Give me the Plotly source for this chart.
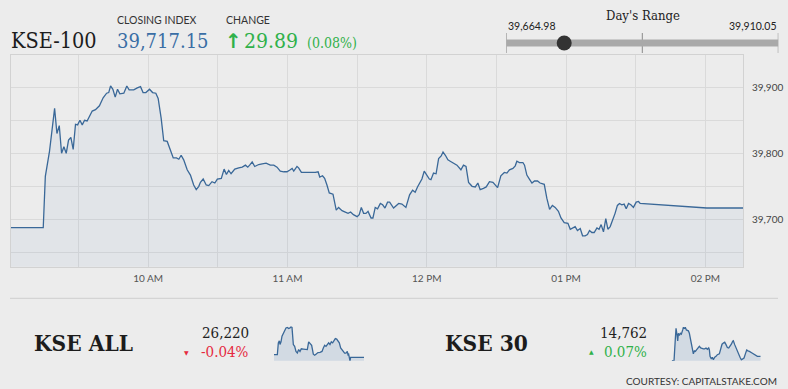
import pandas as pd
import plotly.graph_objects as go

W, H = 788, 389
BASE = pd.Timestamp("2020-01-06")

# ---------------- data ----------------
# KSE-100 intraday (minutes since midnight, index value)
kse100_minutes = [
    540, 554.8, 555.7, 557.5, 559.7, 560.7, 561.7, 562.7, 563.7, 564.7, 565.7, 566.7, 567.7, 568.7,
    569.6, 570.6, 571.6, 572.6, 573.7, 574.9, 575.9, 577.3, 579.0, 580.6, 582.1, 583.0, 583.8, 584.8,
    585.8, 586.8, 587.8, 589.5, 590.8, 591.8, 593.8, 595.3, 596.7, 597.8, 599.0, 600.6, 601.9, 603.3,
    604.3, 605.6, 606.7, 608.2, 609.6, 610.8, 612.2, 613.2, 614.2, 615.3, 616.8, 618.2, 619.6, 620.7,
    621.8, 622.5, 623.7, 625.0, 626.1, 627.5, 628.7, 629.8, 631.5, 632.7, 633.7, 634.7, 635.7, 637.3,
    639.0, 640.5, 641.9, 642.9, 643.7, 644.8, 645.9, 647.6, 649.1, 650.8, 652.6, 654.1, 655.5, 656.9,
    658.4, 659.8, 661.2, 662.0, 662.7, 664.1, 664.8, 666.0, 667.7, 669.9, 670.8, 672.0, 673.2, 673.9,
    675.1, 676.0, 677.0, 678.0, 679.6, 680.3, 681.0, 682.0, 683.5, 684.9, 686.1, 687.2, 688.4, 690.0,
    690.9, 691.8, 692.8, 693.8, 694.7, 696.0, 696.8, 697.8, 698.8, 700.0, 701.0, 702.0, 703.1, 704.0,
    705.7, 707.9, 709.3, 711.0, 712.6, 713.9, 715.0, 716.0, 717.2, 717.9, 718.9, 720.1, 721.1, 721.8,
    722.9, 724.0, 725.1, 726.2, 727.0, 728.0, 729.1, 730.1, 731.5, 733.0, 734.7, 735.8, 736.9, 738.0,
    739.5, 740.9, 742.0, 743.0, 744.4, 745.6, 747.0, 748.5, 750.5, 751.9, 753.4, 754.5, 755.6, 757.1,
    758.1, 758.8, 759.9, 761.4, 762.1, 763.1, 764.2, 765.3, 766.4, 767.7, 768.8, 770.6, 771.7, 772.9,
    774.1, 775.3, 776.7, 777.8, 779.2, 780.8, 781.8, 782.8, 783.9, 784.9, 786.1, 787.1, 788.2, 789.2,
    790.1, 791.1, 792.1, 793.3, 794.2, 795.1, 796.1, 797.1, 798.0, 799.0, 800.1, 801.1, 802.1, 803.0,
    804.0, 805.0, 805.9, 806.9, 807.9, 809.0, 810.2, 811.2, 811.9, 840.6, 856.2,
]
kse100_values = [
    39687.26, 39687.26, 39765, 39803, 39868, 39830, 39842, 39800, 39810, 39800, 39820, 39824, 39806, 39844,
    39843, 39850, 39843, 39850, 39849, 39857, 39864, 39866, 39872, 39884, 39891, 39892, 39902, 39897,
    39885, 39897, 39890, 39891, 39902, 39896, 39896, 39899, 39901, 39892, 39892, 39897, 39892, 39891,
    39883, 39853, 39819, 39818, 39805, 39793, 39793, 39791, 39797, 39790, 39775, 39767, 39752, 39745,
    39750, 39756, 39761, 39752, 39751, 39757, 39755, 39761, 39762, 39776, 39768, 39774, 39769, 39776,
    39778, 39779, 39782, 39779, 39782, 39787, 39780, 39783, 39784, 39785, 39782, 39782, 39779, 39773,
    39772, 39772, 39775, 39777, 39773, 39780, 39778, 39771, 39771, 39771, 39770, 39771, 39772, 39764,
    39766, 39762, 39752, 39740, 39738, 39724, 39714, 39718, 39713, 39711, 39709, 39711, 39707, 39704,
    39707, 39718, 39709, 39709, 39712, 39702, 39702, 39718, 39716, 39724, 39722, 39717, 39726, 39726,
    39717, 39724, 39723, 39718, 39737, 39744, 39741, 39749, 39758, 39761, 39773, 39767, 39761, 39760,
    39770, 39769, 39792, 39796, 39802, 39797, 39790, 39788, 39785, 39782, 39775, 39782, 39780, 39756,
    39750, 39749, 39755, 39745, 39747, 39749, 39757, 39756, 39748, 39766, 39771, 39770, 39775, 39777,
    39781, 39788, 39786, 39786, 39782, 39767, 39761, 39755, 39758, 39758, 39755, 39753, 39732, 39715,
    39721, 39718, 39712, 39702, 39695, 39694, 39685, 39687, 39689, 39683, 39686, 39675, 39675, 39677,
    39683, 39680, 39680, 39687, 39685, 39692, 39681, 39701, 39685, 39689, 39699, 39709, 39721, 39724,
    39722, 39723, 39716, 39724, 39722, 39718, 39726, 39727, 39724, 39717.15, 39717.15,
]

# KSE ALL sparkline
kseall_minutes = [
    540, 551.7, 555.2, 558.7, 561.1, 564.6, 568.1, 572.8, 577.4, 582.1, 586.8, 591.5, 596.2, 599.7,
    603.2, 605.5, 607.9, 612.5, 617.2, 621.9, 626.6, 631.3, 635.9, 643, 650, 657, 661.7, 666.4,
    672.2, 678.1, 682.7, 687.4, 694.4, 701.5, 708.5, 713.2, 717.9, 722.5, 727.2, 731.9, 736.6, 741.3,
    745.9, 750.6, 755.3, 760, 764.6, 769.3, 774, 778.7, 783.4, 788, 792.8, 797.4, 799.7, 802.1,
    806.8, 809.1, 856,
]
kseall_values = [
    26230, 26230, 26274, 26282, 26268, 26278, 26299, 26311, 26318, 26330, 26332, 26328, 26330, 26334,
    26332, 26299, 26268, 26261, 26242, 26236, 26249, 26242, 26252, 26251, 26249, 26249, 26278, 26271,
    26265, 26232, 26228, 26232, 26238, 26239, 26242, 26255, 26265, 26261, 26268, 26274, 26268, 26278,
    26274, 26282, 26290, 26288, 26280, 26274, 26255, 26249, 26242, 26236, 26236, 26242, 26230, 26232,
    26207, 26220, 26220,
]

# KSE 30 sparkline
kse30_minutes = [
    540, 548.3, 553, 555.4, 558.9, 561.3, 563.7, 567.2, 570.8, 574.3, 579.1, 581.4, 585, 588.5,
    592.1, 595.6, 599.2, 602.7, 607.5, 612.2, 616.9, 620.5, 624, 628.8, 633.5, 638.2, 643, 647.7,
    652.4, 657.2, 661.9, 666.6, 671.4, 673.7, 676.1, 680.8, 684.4, 687.9, 692.7, 697.4, 702.1, 709.2,
    714, 718.7, 723.4, 728.2, 732.9, 737.6, 742.4, 747.1, 751.8, 756.6, 758.9, 763.7, 768.4, 773.1,
    777.9, 782.6, 787.4, 792.1, 796.8, 801.6, 806.3, 811, 815.8, 825.2, 834.7, 844.2, 856,
]
kse30_values = [
    14752, 14752, 14805, 14829, 14813, 14799, 14817, 14812, 14817, 14815, 14825, 14831, 14829, 14831,
    14825, 14823, 14823, 14817, 14801, 14790, 14768, 14775, 14774, 14778, 14783, 14786, 14782, 14780,
    14780, 14780, 14782, 14779, 14782, 14778, 14762, 14756, 14760, 14754, 14760, 14762, 14766, 14768,
    14778, 14791, 14794, 14796, 14790, 14783, 14782, 14786, 14791, 14798, 14799, 14790, 14782, 14774,
    14764, 14760, 14754, 14756, 14758, 14768, 14777, 14775, 14774, 14770, 14766, 14762, 14762,
]

# header figures
closing_index = 39717.15
change_points = 29.89
change_pct = "0.08%"
day_low = 39664.98
day_high = 39910.05

kseall_close, kseall_pct = "26,220", "-0.04%"
kse30_close, kse30_pct = "14,762", "0.07%"

y_tickvals = [39650, 39700, 39750, 39800, 39850, 39900]
y_ticktext = ["", "39,700", "", "39,800", "", "39,900"]
x_tick_minutes = [570, 600, 630, 660, 690, 720, 750, 780, 810, 840]
x_ticktext = ["", "10 AM", "", "11 AM", "", "12 PM", "", "01 PM", "", "02 PM"]


def to_time(mins):
    return [BASE + pd.to_timedelta(m, unit="m") for m in mins]


def px(x):
    return x / W


def py(y):
    return 1 - y / H


BG = "#ececec"
GRID = "#dadada"
LINE = "#3a6898"
SERIF = "DejaVu Serif Condensed, DejaVu Serif"
SANS = "Lato"
GREEN = "#30b14a"
RED = "#e52a3f"
BLUE = "#3a6ea5"

fig = go.Figure()

# main chart
fig.add_trace(go.Scatter(
    x=to_time(kse100_minutes), y=kse100_values, mode="lines",
    line=dict(color=LINE, width=1.3), fill="tozeroy",
    fillcolor="rgba(80,125,185,0.07)", xaxis="x", yaxis="y", hoverinfo="skip",
))

# sparklines
fig.add_trace(go.Scatter(
    x=to_time(kseall_minutes), y=kseall_values, mode="lines",
    line=dict(color=LINE, width=1.3), fill="tozeroy",
    fillcolor="rgba(150,175,205,0.30)", xaxis="x2", yaxis="y2", hoverinfo="skip",
))
fig.add_trace(go.Scatter(
    x=to_time(kse30_minutes), y=kse30_values, mode="lines",
    line=dict(color=LINE, width=1.3), fill="tozeroy",
    fillcolor="rgba(150,175,205,0.30)", xaxis="x3", yaxis="y3", hoverinfo="skip",
))

# day's range slider
fig.add_trace(go.Scatter(
    x=[day_low, day_high], y=[0.5, 0.5], mode="lines",
    line=dict(color="#a9a9a9", width=7), xaxis="x4", yaxis="y4", hoverinfo="skip",
))
fig.add_trace(go.Scatter(
    x=[closing_index], y=[0.5], mode="markers",
    marker=dict(color="#333333", size=15), xaxis="x4", yaxis="y4", hoverinfo="skip",
))

x_range = [BASE + pd.to_timedelta(540.7, unit="m"), BASE + pd.to_timedelta(856.2, unit="m")]
spark_range = [BASE + pd.to_timedelta(540, unit="m"), BASE + pd.to_timedelta(856, unit="m")]

hidden = dict(visible=False, showgrid=False, zeroline=False, fixedrange=True)

fig.update_layout(
    width=W, height=H, margin=dict(l=0, r=0, t=0, b=0),
    paper_bgcolor=BG, plot_bgcolor=BG, showlegend=False,
    xaxis=dict(
        domain=[px(10.5), px(743)], range=x_range, type="date",
        tickvals=to_time(x_tick_minutes), ticktext=x_ticktext,
        showgrid=True, gridcolor=GRID, gridwidth=1,
        showline=True, linecolor="#d2d2d2", linewidth=1, mirror=True,
        ticks="", tickfont=dict(family=SANS, size=10, color="#555"),
        ticklabelstandoff=2, zeroline=False, fixedrange=True,
    ),
    yaxis=dict(
        domain=[py(266.7), py(55)], range=[39628.2, 39948.9], side="right",
        tickvals=y_tickvals, ticktext=y_ticktext,
        showgrid=True, gridcolor=GRID, gridwidth=1,
        showline=True, linecolor="#d2d2d2", linewidth=1, mirror=True,
        ticks="", tickfont=dict(family=SANS, size=10, color="#444"),
        ticklabelstandoff=6, zeroline=False, fixedrange=True,
    ),
    xaxis2=dict(domain=[px(274), px(364)], range=spark_range, type="date", anchor="y2", **hidden),
    yaxis2=dict(domain=[py(360.7), py(326.3)], range=[26207.5, 26336], anchor="x2", **hidden),
    xaxis3=dict(domain=[px(671.7), px(760.7)], range=spark_range, type="date", anchor="y3", **hidden),
    yaxis3=dict(domain=[py(360.7), py(327)], range=[14751.7, 14832], anchor="x3", **hidden),
    xaxis4=dict(domain=[px(506.3), px(778.3)], range=[day_low, day_high], anchor="y4", **hidden),
    yaxis4=dict(domain=[py(53), py(33)], range=[0, 1], anchor="x4", **hidden),
)

shapes = []
for xv in [day_low, (day_low + day_high) / 2, day_high]:
    shapes.append(dict(type="line", xref="x4", yref="paper", x0=xv, x1=xv,
                       y0=py(53), y1=py(33), line=dict(color="#8a8a8a", width=1), layer="below"))
shapes.append(dict(type="line", xref="paper", yref="paper", x0=px(10), x1=px(778),
                   y0=py(298.3), y1=py(298.3), line=dict(color="#cfcfcf", width=1)))
fig.update_layout(shapes=shapes)


def ann(text, x, y, size, color, family, xanchor="left", bold=False):
    return dict(text=f"<b>{text}</b>" if bold else text, x=px(x), y=py(y), xref="paper", yref="paper",
                xanchor=xanchor, yanchor="middle", showarrow=False,
                font=dict(size=size, color=color, family=family))


annotations = [
    ann("KSE-100", 9, 40, 21.5, "#1c1c1c", SERIF),
    ann("CLOSING INDEX", 115, 20, 10.5, "#333", SANS),
    ann(f"{closing_index:,.2f}", 115, 41, 20, BLUE, SERIF),
    ann("CHANGE", 224.5, 20, 10.5, "#333", SANS),
    ann("↑", 222.5, 41, 20, GREEN, "DejaVu Sans", bold=True),
    ann(f"{change_points:.2f}", 242, 41, 21, GREEN, SERIF),
    ann(f"({change_pct})", 305, 43, 14, GREEN, SERIF),
    ann("Day's Range", 642.5, 15, 13, "#222", SERIF, xanchor="center"),
    ann(f"{day_low:,.2f}", 505.5, 26, 10.5, "#222", SANS),
    ann(f"{day_high:,.2f}", 779, 26, 10.5, "#222", SANS, xanchor="right"),
    ann("KSE ALL", 32, 342.5, 22.5, "#1c1c1c", SERIF, bold=True),
    ann(kseall_close, 251, 333, 15, "#222", SERIF, xanchor="right"),
    ann(kseall_pct, 251, 352, 15, RED, SERIF, xanchor="right"),
    ann("▼", 186.5, 352.5, 6, RED, "DejaVu Sans", xanchor="center"),
    ann("KSE 30", 443, 342.5, 22.5, "#1c1c1c", SERIF, bold=True),
    ann(kse30_close, 648.5, 333, 15, "#222", SERIF, xanchor="right"),
    ann(kse30_pct, 648.5, 352, 15, GREEN, SERIF, xanchor="right"),
    ann("▲", 591.7, 351.5, 6, GREEN, "DejaVu Sans", xanchor="center"),
    ann("COURTESY: CAPITALSTAKE.COM", 779, 381, 10, "#333", SANS, xanchor="right"),
]
fig.update_layout(annotations=annotations)

fig.write_html("out.html", config={"displayModeBar": False},
               post_script="document.body.style.margin='0px';")
